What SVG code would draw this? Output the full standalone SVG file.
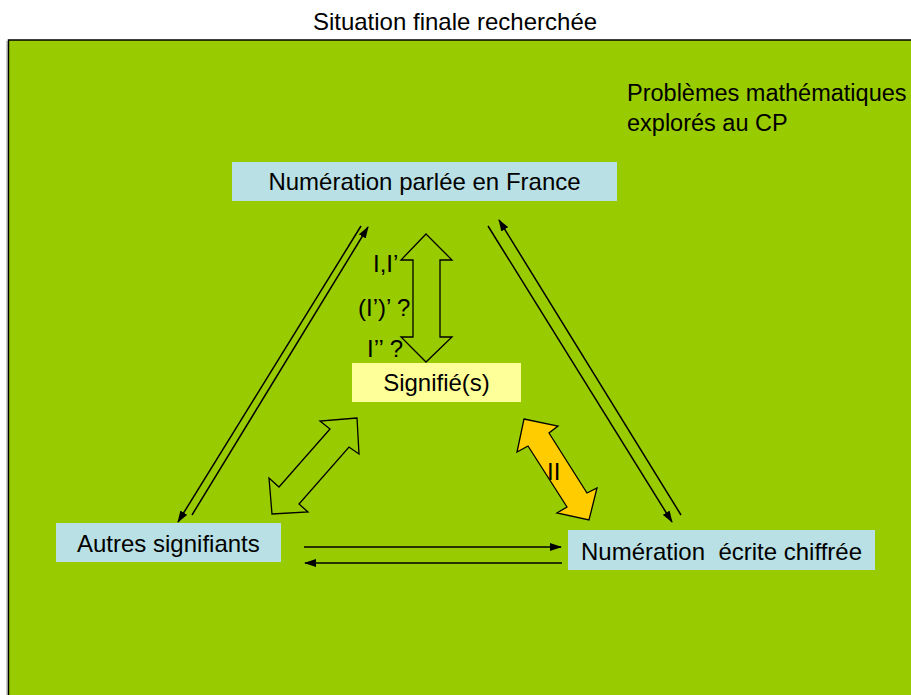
<svg xmlns="http://www.w3.org/2000/svg" width="911" height="695" viewBox="0 0 911 695">
<style>
text{font-family:"Liberation Sans",Arial,sans-serif;font-size:24px;fill:#000}
.box{fill:#B9E0E5}
.sig{fill:#FFFF99}
.conn line{stroke:#000;stroke-width:1.5;fill:none}
.big{stroke:#000;stroke-width:1.3;stroke-linejoin:miter}
</style>
<defs>
<marker id="ah" viewBox="0 0 12 8" refX="11" refY="4" markerWidth="12" markerHeight="8" markerUnits="userSpaceOnUse" orient="auto">
<path d="M0,0 L12,4 L0,8 z" fill="#000"/>
</marker>
</defs>
<rect width="911" height="695" fill="#fff"/>
<text x="455" y="30" text-anchor="middle">Situation finale recherchée</text>
<line x1="7" y1="41" x2="7" y2="695" stroke="#999" stroke-width="1"/>
<rect x="8.5" y="40" width="910" height="670" fill="#99CC00" stroke="#000" stroke-width="1.5"/>
<g id="note">
<text x="627" y="101" style="font-size:23.5px">Problèmes mathématiques</text>
<text x="627" y="131" style="font-size:23.5px">explorés au CP</text>
</g>

<g class="conn">
<line x1="361" y1="226" x2="178" y2="522" marker-end="url(#ah)"/>
<line x1="192" y1="515" x2="368" y2="227" marker-end="url(#ah)"/>
<line x1="488" y1="226" x2="672" y2="522" marker-end="url(#ah)"/>
<line x1="681" y1="515" x2="499" y2="220" marker-end="url(#ah)"/>
<line x1="304" y1="547" x2="561" y2="547" marker-end="url(#ah)"/>
<line x1="562" y1="563" x2="305" y2="563" marker-end="url(#ah)"/>
</g>

<g id="arrow-vertical">
<polygon class="big" fill="#99CC00" points="426,234 452,260 440,260 440,337 452,337 426,362 401,337 413,337 413,260 401,260"/>
<text x="373" y="272">I,I’</text>
<text x="358" y="316">(I’)’ ?</text>
<text x="367" y="357">I’’ ?</text>
</g>
<g id="arrow-left">
<polygon class="big" fill="#99CC00" points="357,418 320,421 330,429 279,487 269,478 272,514 308,512 299,504 349,447 359,454"/>
</g>
<g id="arrow-right">
<polygon class="big" fill="#FFCC00" points="524,419 558,426 549,433 587,493 597,488 589,520 557,513 567,507 528,446 517,452"/>
<text x="547" y="480">II</text>
</g>

<g id="node-parlee">
<rect class="box" x="232" y="162" width="385" height="39"/>
<text x="424.5" y="190" text-anchor="middle">Numération parlée en France</text>
</g>
<g id="node-signifie">
<rect class="sig" x="352" y="363" width="169" height="39"/>
<text x="436.5" y="391" text-anchor="middle">Signifié(s)</text>
</g>
<g id="node-autres">
<rect class="box" x="56" y="523" width="225" height="39"/>
<text x="77" y="552">Autres signifiants</text>
</g>
<g id="node-ecrite">
<rect class="box" x="568" y="530" width="307" height="40"/>
<text x="581" y="560" xml:space="preserve">Numération  écrite chiffrée</text>
</g>
</svg>
